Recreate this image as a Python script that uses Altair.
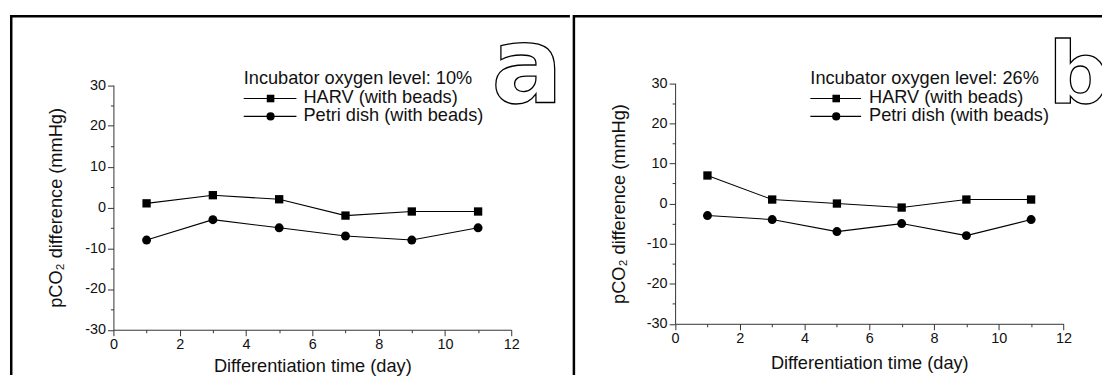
import altair as alt
import pandas as pd

# ---- data ----
days = [1, 3, 5, 7, 9, 11]
harv_a = [1, 3, 2, -2, -1, -1]
petri_a = [-8, -3, -5, -7, -8, -5]
harv_b = [7, 1, 0, -1, 1, 1]
petri_b = [-3, -4, -7, -5, -8, -4]
series_names = ["HARV (with beads)", "Petri dish (with beads)"]
panel_titles = ["Incubator oxygen level: 10%", "Incubator oxygen level: 26%"]
panel_letters = ["a", "b"]
x_major = [0, 2, 4, 6, 8, 10, 12]
x_minor = [1, 3, 5, 7, 9, 11]
y_major = [-30, -20, -10, 0, 10, 20, 30]
y_minor = [-25, -15, -5, 5, 15, 25]
x_title = "Differentiation time (day)"
y_title = "pCO\u2082 difference (mmHg)"

FONT = "Liberation Sans"
AXC = "#333333"
TXT = "#111111"


def panel(harv, petri, title, letter, W, H, xr, yr, leg, let, border_left_x, ytx):
    df = pd.DataFrame({
        "day": days * 2,
        "value": harv + petri,
        "series": [series_names[0]] * len(days) + [series_names[1]] * len(days),
    })
    one = alt.Data(values=[{"k": 0}])
    xoff = yr[0] - H
    yoff = -xr[0]
    xsc = alt.Scale(domain=[0, 12], range=list(xr), nice=False, zero=False)
    ysc = alt.Scale(domain=[-30, 30], range=list(yr), nice=False, zero=False)

    ax_x = alt.Axis(values=x_major, orient="bottom", offset=xoff, tickSize=6, tickColor=AXC,
                    domainColor=AXC, domainWidth=1, tickWidth=1, grid=False,
                    labelFont=FONT, labelFontSize=14.5, labelColor=TXT, labelPadding=2,
                    labelExpr="'' + datum.value", labelFlush=False, labelOverlap=False,
                    title=x_title, titleFont=FONT, titleFontSize=18.3, titleFontWeight="normal",
                    titleColor=TXT, titleY=let["xty"], titleBaseline="middle")
    ax_y = alt.Axis(values=y_major, orient="left", offset=yoff, tickSize=6, tickColor=AXC,
                    domainColor=AXC, domainWidth=1, tickWidth=1, grid=False,
                    labelFont=FONT, labelFontSize=14.5, labelColor=TXT, labelPadding=2,
                    labelExpr="'' + datum.value", labelFlush=False, labelOverlap=False,
                    title=y_title, titleFont=FONT, titleFontSize=18.3, titleFontWeight="normal",
                    titleColor=TXT, titleX=ytx, titleY=(yr[0] + yr[1]) / 2,
                    titleBaseline="middle", titleAngle=270)
    ax_xm = alt.Axis(values=x_minor, orient="bottom", offset=xoff, tickSize=3, tickColor=AXC,
                     tickWidth=1, domain=False, labels=False, grid=False, title=None)
    ax_ym = alt.Axis(values=y_minor, orient="left", offset=yoff, tickSize=3, tickColor=AXC,
                     tickWidth=1, domain=False, labels=False, grid=False, title=None)

    base = alt.Chart(df)
    lines = base.mark_line(color="black", strokeWidth=1.1).encode(
        x=alt.X("day:Q", scale=xsc, axis=ax_x),
        y=alt.Y("value:Q", scale=ysc, axis=ax_y),
        detail="series:N",
    )
    pts = base.mark_point(filled=True, color="black", opacity=1).encode(
        x=alt.X("day:Q", scale=xsc, axis=None),
        y=alt.Y("value:Q", scale=ysc, axis=None),
        shape=alt.Shape("series:N", scale=alt.Scale(domain=series_names, range=["square", "circle"]), legend=None),
        size=alt.Size("series:N", scale=alt.Scale(domain=series_names, range=[70, 81]), legend=None),
    )
    minor = base.mark_point(opacity=0).encode(
        x=alt.X("day:Q", scale=xsc, axis=ax_xm),
        y=alt.Y("value:Q", scale=ysc, axis=ax_ym),
    )

    layers = [lines, pts, minor]

    # frame lines of the figure panel
    layers.append(alt.Chart(one).mark_rule(color="black", strokeWidth=2.5).encode(
        x=alt.value(0), x2=alt.value(W), y=alt.value(1.25)))
    layers.append(alt.Chart(one).mark_rule(color="black", strokeWidth=2.5).encode(
        x=alt.value(border_left_x), y=alt.value(0), y2=alt.value(H)))

    # in-plot legend
    layers.append(alt.Chart(one).mark_text(text=title, font=FONT, fontSize=18.3, align="left",
                                           baseline="middle", color=TXT).encode(
        x=alt.value(leg["x0"]), y=alt.value(leg["ty"])))
    for i, nm in enumerate(series_names):
        ry = leg["rows"][i]
        layers.append(alt.Chart(one).mark_rule(color="black", strokeWidth=1.1).encode(
            x=alt.value(leg["x0"]), x2=alt.value(leg["x1"]), y=alt.value(ry)))
        layers.append(alt.Chart(one).mark_point(filled=True, color="black", opacity=1,
                                                shape=["square", "circle"][i],
                                                size=[58, 68][i]).encode(
            x=alt.value(leg["xm"]), y=alt.value(ry)))
        layers.append(alt.Chart(one).mark_text(text=nm, font=FONT, fontSize=18.3, align="left",
                                               baseline="middle", color=TXT).encode(
            x=alt.value(leg["xt"]), y=alt.value(ry)))

    # outlined panel letter
    layers.append(alt.Chart(one).mark_text(text=letter, font="DejaVu Sans", fontWeight="bold",
                                           fontSize=let["size"], align="left", baseline="alphabetic",
                                           fill="white", stroke="black", strokeWidth=1.3,
                                           clip=True).encode(
        x=alt.value(let["x"]), y=alt.value(let["y"])))

    return alt.layer(*layers).resolve_axis(x="independent", y="independent").properties(
        width=W, height=H)


pa = panel(harv_a, petri_a, panel_titles[0], panel_letters[0],
           W=563, H=362, xr=(104, 504), yr=(316.5, 70.5),
           leg={"x0": 235, "x1": 288, "xm": 262, "xt": 295, "ty": 64, "rows": [84, 102]},
           let={"x": 484, "y": 87, "size": 107, "xty": 37},
           border_left_x=1.25, ytx=-57)
pb = panel(harv_b, petri_b, panel_titles[1], panel_letters[1],
           W=531, H=362, xr=(101.75, 492.25), yr=(310.5, 68.7),
           leg={"x0": 237.75, "x1": 288.75, "xm": 263.75, "xt": 296.75, "ty": 64, "rows": [84, 102]},
           let={"x": 477, "y": 89, "size": 86, "xty": 40},
           border_left_x=0, ytx=-56)

chart = alt.hconcat(pa, pb, spacing=0).properties(
    padding={"left": 0, "top": 4, "right": 0, "bottom": 0}
).configure_view(strokeWidth=0)

chart.save("out.html", embed_options={"renderer": "svg", "actions": False})
